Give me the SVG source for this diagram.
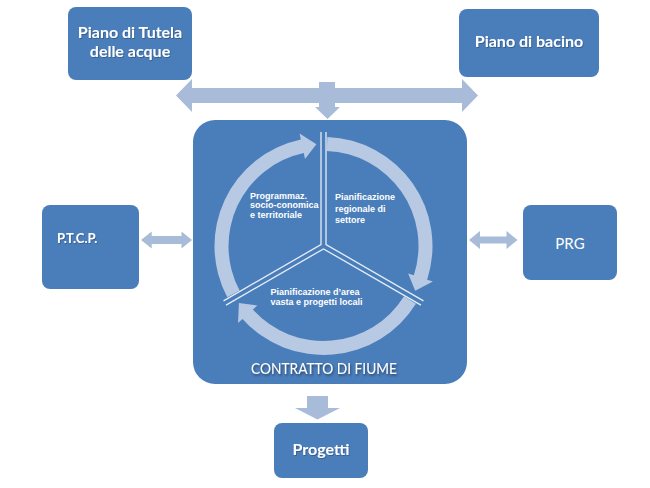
<svg xmlns="http://www.w3.org/2000/svg" width="650" height="488" viewBox="0 0 650 488">
<defs>
<filter id="ts" x="-10%" y="-30%" width="120%" height="160%"><feDropShadow dx="1" dy="1.5" stdDeviation="0.8" flood-color="#1a2a40" flood-opacity="0.75"/></filter>
<filter id="ts2" x="-10%" y="-30%" width="120%" height="160%"><feDropShadow dx="0.8" dy="1" stdDeviation="0.6" flood-color="#203050" flood-opacity="0.45"/></filter>
</defs>
<style>
.box{fill:#4a7ebb;}
.conn{fill:#a8bbd8;}
.ring{fill:#b8c9e3;}
.div{stroke:#e6edf7;stroke-width:1.3;fill:none;}
.t{fill:#ffffff;font-family:Lato,"Liberation Sans",sans-serif;}
.b{font-weight:bold;}
.s{fill:#ffffff;font-family:"Liberation Sans",Arial,sans-serif;font-weight:bold;font-size:9px;}
</style>
<rect width="650" height="488" fill="#ffffff"/>
<g id="connectors">
<polygon class="conn" points="176,95.5 192,79 192,88 319,88 319,82 335,82 335,88 462,88 462,79 478,95.5 462,112 462,103 335,103 335,107 340,107 327.5,119 315,107 319,107 319,103 192,103 192,112"/>
<polygon class="conn" points="141,240 151.7,231.5 151.7,236 181.5,236 181.5,231.5 192,240 181.5,248.5 181.5,244 151.7,244 151.7,248.5"/>
<polygon class="conn" points="469,240 480,231 480,236.5 506.5,236.5 506.5,231 517.5,240 506.5,249 506.5,243.5 480,243.5 480,249"/>
<polygon class="conn" points="307,396 328,396 328,408 340,408 317.5,419.5 295,408 307,408"/>
</g>
<g id="tutela">
<rect class="box" x="68" y="7" width="124" height="73" rx="8"/>
<text class="t b" filter="url(#ts2)" font-size="16" text-anchor="middle"><tspan x="130" y="37.5">Piano di Tutela</tspan><tspan x="130" y="57">delle acque</tspan></text>
</g>
<g id="bacino">
<rect class="box" x="459" y="9" width="140" height="68" rx="8"/>
<text class="t b" filter="url(#ts2)" font-size="16" text-anchor="middle" x="529" y="47">Piano di bacino</text>
</g>
<g id="ptcp">
<rect class="box" x="42" y="205" width="97" height="84" rx="8"/>
<text class="t b" filter="url(#ts2)" font-size="13" x="57" y="242.5">P.T.C.P.</text>
</g>
<g id="prg">
<rect class="box" x="523" y="205" width="94" height="75" rx="8"/>
<text class="t" font-size="15" text-anchor="middle" x="570" y="248.5">PRG</text>
</g>
<g id="progetti">
<rect class="box" x="274" y="423" width="94" height="55" rx="8"/>
<text class="t b" filter="url(#ts2)" font-size="16" text-anchor="middle" x="321" y="455">Progetti</text>
</g>
<g id="contratto">
<rect class="box" x="193" y="120" width="274" height="264" rx="22"/>
<g transform="translate(323.5,246)">
<path class="ring" d="M -96.24 51.18 A 109 109 0 0 1 -22.66 -106.61 L -23.91 -112.48 L -7.12 -101.76 L -18.50 -87.05 L -19.75 -92.92 A 95 95 0 0 0 -83.88 44.60 Z"/>
<path class="ring" d="M 3.80 -108.93 A 109 109 0 0 1 103.67 33.68 L 109.38 35.54 L 91.68 44.72 L 84.65 27.50 L 90.35 29.36 A 95 95 0 0 0 3.32 -94.94 Z"/>
<path class="ring" d="M 92.43 57.76 A 109 109 0 0 1 -81.0 72.93 L -85.46 76.95 L -84.56 57.04 L -66.14 59.55 L -70.59 63.56 A 95 95 0 0 0 80.56 50.34 Z"/>
<path class="div" d="M -2.5 -114 L -2.5 -1.44 L -99.98 54.84 M 2.5 -114 L 2.5 -1.44 L 99.98 54.84 M -97.48 59.17 L 0 2.89 L 97.48 59.17"/>
</g>
<text class="s" font-size="8.5"><tspan x="250" y="198.5">Programmaz.</tspan><tspan x="250" y="208">socio-conomica</tspan><tspan x="250" y="217.5">e territoriale</tspan></text>
<text class="s"><tspan x="335" y="200">Pianificazione</tspan><tspan x="335" y="211.5">regionale di</tspan><tspan x="335" y="222.8">settore</tspan></text>
<text class="s" font-size="9.3"><tspan x="270.5" y="294.5">Pianificazione d’area</tspan><tspan x="270.5" y="305">vasta e progetti locali</tspan></text>
<text class="t" filter="url(#ts)" font-size="15" text-anchor="middle" x="324" y="373.5" textLength="146" lengthAdjust="spacingAndGlyphs">CONTRATTO DI FIUME</text>
</g>
</svg>
